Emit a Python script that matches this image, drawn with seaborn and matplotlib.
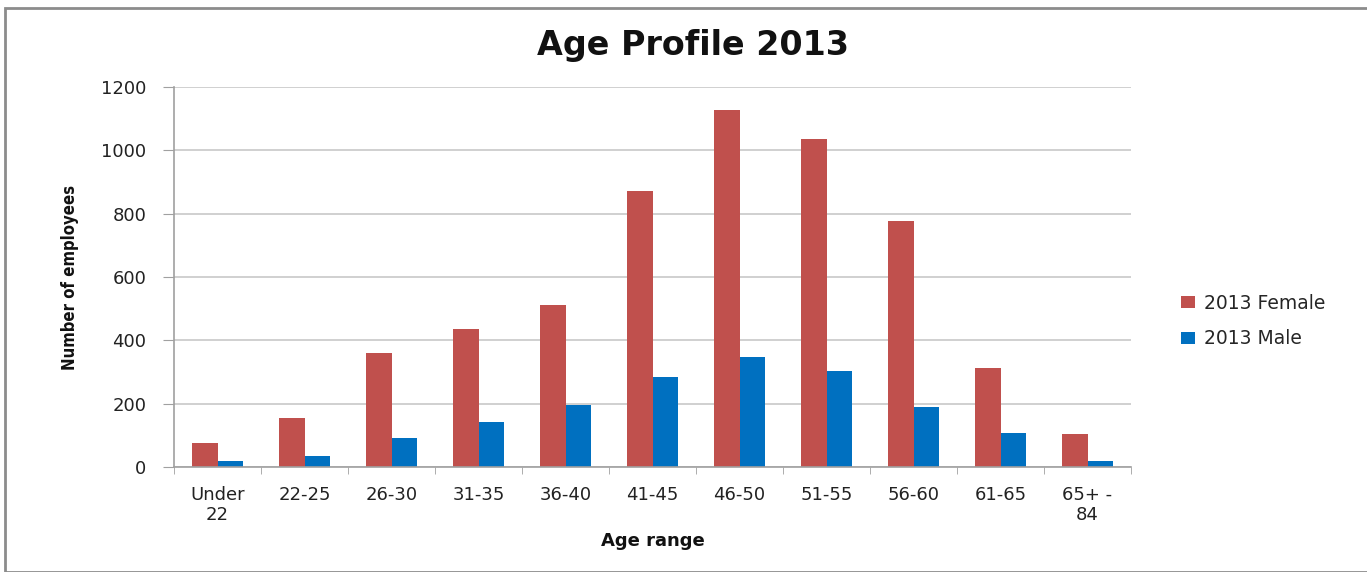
import matplotlib
matplotlib.use("Agg")
import matplotlib.pyplot as plt
import seaborn as sns
import pandas as pd
from matplotlib.patches import Rectangle
from matplotlib.ticker import FixedLocator

categories = ["Under\n22", "22-25", "26-30", "31-35", "36-40", "41-45",
              "46-50", "51-55", "56-60", "61-65", "65+ -\n84"]
female = [75, 155, 360, 435, 510, 872, 1127, 1036, 777, 313, 104]
male = [19, 35, 92, 142, 196, 284, 347, 303, 189, 107, 19]
series_names = ["2013 Female", "2013 Male"]
colors = ["#C0504D", "#0070C0"]
yticks = [0, 200, 400, 600, 800, 1000, 1200]

df = pd.DataFrame({
    "Age range": categories * 2,
    "value": female + male,
    "series": [series_names[0]] * len(categories) + [series_names[1]] * len(categories),
})

sns.set_style("white")
plt.rcParams['font.family'] = ['DejaVu Sans']

fig = plt.figure(figsize=(13.67, 5.72), dpi=100)
ax = fig.add_axes([0.1273, 0.1836, 0.7001, 0.6644])

sns.barplot(data=df, x="Age range", y="value", hue="series", order=categories,
            hue_order=series_names, palette=colors, width=0.59, saturation=1,
            ax=ax, linewidth=0)

ax.set_ylim(0, 1200)
ax.set_xlim(-0.5, len(categories) - 0.5)
ax.set_yticks(yticks)
ax.set_yticklabels([str(t) for t in yticks], fontsize=13, color="#222222")
ax.set_xticks(range(len(categories)))
ax.set_xticklabels(categories, fontsize=13, color="#222222", linespacing=1.1)
ax.tick_params(axis="x", which="major", length=0, pad=14)
ax.xaxis.set_minor_locator(FixedLocator([i - 0.5 for i in range(len(categories) + 1)]))
ax.tick_params(axis="x", which="minor", length=5, color="#A0A0A0", direction="out", bottom=True)
ax.tick_params(axis="y", which="major", length=8, color="#A0A0A0", direction="out", left=True, pad=12)

ax.grid(axis="y", color="#C8C8C8", linewidth=1.2)
ax.set_axisbelow(True)
for s in ["top", "right"]:
    ax.spines[s].set_visible(False)
for s in ["left", "bottom"]:
    ax.spines[s].set_color("#A0A0A0")
    ax.spines[s].set_linewidth(1.2)

ax.set_xlabel("Age range", fontsize=13, fontweight="bold", labelpad=6, color="#111111")
ax.set_ylabel("Number of employees", fontsize=12, fontweight="bold",
              family=["DejaVu Sans"], fontstretch="condensed", labelpad=16, color="#111111")

fig.text(693 / 1367, 1 - 45 / 572, "Age Profile 2013", ha="center", va="center",
         fontsize=24, fontweight="bold", color="#111111")

leg = ax.legend(loc="center left", bbox_to_anchor=(1.035, 0.384), frameon=False,
                fontsize=13.5, handlelength=0.7, handleheight=0.6, handletextpad=0.5,
                labelspacing=0.9)

fig.add_artist(Rectangle((5 / 1367, 0), 1 - 5 / 1367 + 0.01, 1 - 8 / 572,
                         transform=fig.transFigure, fill=False,
                         edgecolor="#8C8C8C", linewidth=2.0))

fig.savefig("out.png", dpi=100)
